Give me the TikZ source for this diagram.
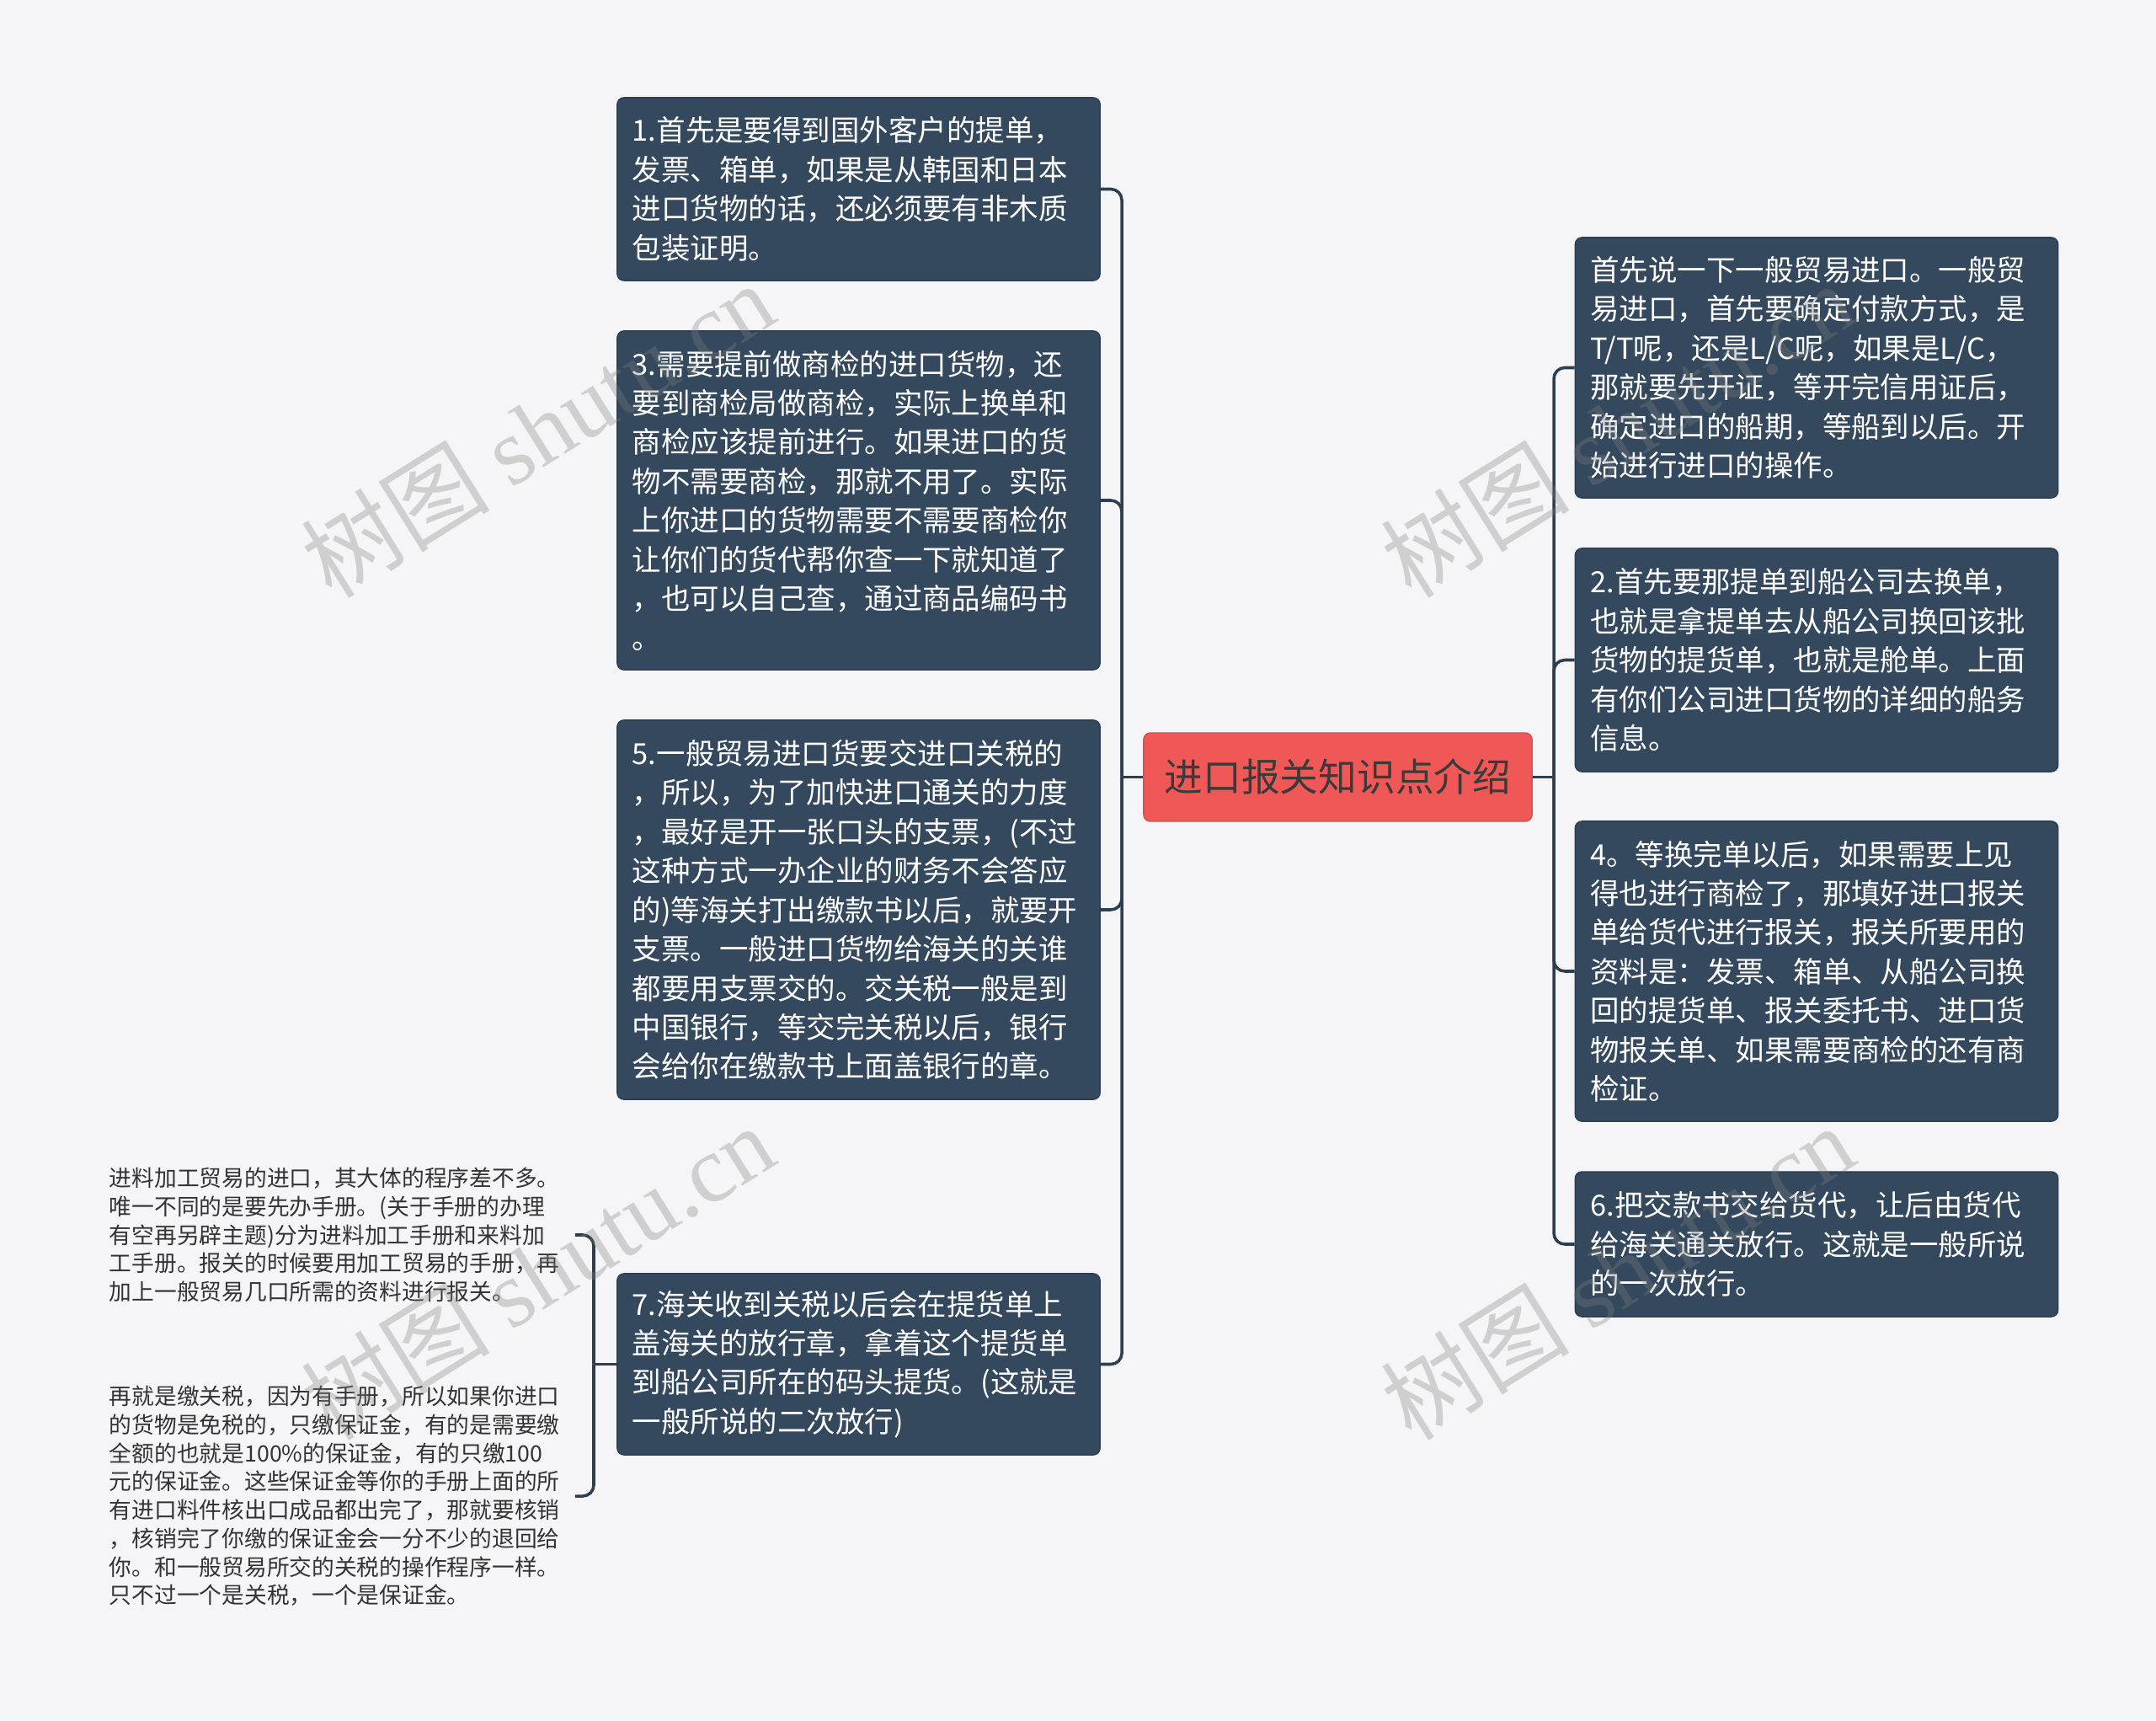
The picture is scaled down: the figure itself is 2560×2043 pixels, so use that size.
\documentclass[tikz,border=0pt]{standalone}
\usepackage{fontspec}
\setmainfont{Noto Sans CJK SC}
\newfontfamily\wmlatin{Liberation Serif}
\definecolor{bgcol}{HTML}{F5F5F7}
\definecolor{boxcol}{HTML}{34495E}
\definecolor{linecol}{HTML}{2C3E50}
\definecolor{rootcol}{HTML}{F05858}
\definecolor{roottext}{HTML}{3A3A3A}
\definecolor{notetext}{HTML}{333333}

\begin{document}
\begin{tikzpicture}[x=0.01cm, y=-0.01cm,
    topic/.style={fill=boxcol, draw=boxcol!85!black, rounded corners=0.08cm, text=white, text width=5.37cm, align=left, inner xsep=0.18cm, font={\fontsize{9.8pt}{13.2pt}\selectfont}},
    note/.style={text=notetext, text width=5.38cm, align=left, inner xsep=0.14cm, anchor=east, font={\fontsize{7.6pt}{9.6pt}\selectfont}},
    link/.style={draw=linecol, line width=1pt, rounded corners=0.13cm},
    wm/.style={text=gray, text opacity=0.32, font={\fontsize{32pt}{32pt}\selectfont}}]
    \fill[bgcol] (0,0) rectangle (2560,2043);
    % root
    \node[fill=rootcol, draw=rootcol!90!black, rounded corners=0.08cm, minimum width=4.61cm, minimum height=1.05cm, text=roottext, font={\fontsize{13pt}{15pt}\selectfont}] at (1588.5,922.5) (intro) {进口报关知识点介绍};
    \coordinate (lj) at (1332,922.5);
    \coordinate (rj) at (1845,922.5);
    % left side
    \node[topic, minimum height=2.17cm] at (1019.5,224.5) (lading) {1.首先是要得到国外客户的提单，\\发票、箱单，如果是从韩国和日本\\进口货物的话，还必须要有非木质\\包装证明。};
    \node[topic, minimum height=4.02cm] at (1019.5,594) (inspect) {3.需要提前做商检的进口货物，还\\要到商检局做商检，实际上换单和\\商检应该提前进行。如果进口的货\\物不需要商检，那就不用了。实际\\上你进口的货物需要不需要商检你\\让你们的货代帮你查一下就知道了\\，也可以自己查，通过商品编码书\\。};
    \node[topic, minimum height=4.50cm] at (1019.5,1080) (duty) {5.一般贸易进口货要交进口关税的\\，所以，为了加快进口通关的力度\\，最好是开一张口头的支票，(不过\\这种方式一办企业的财务不会答应\\的)等海关打出缴款书以后，就要开\\支票。一般进口货物给海关的关谁\\都要用支票交的。交关税一般是到\\中国银行，等交完关税以后，银行\\会给你在缴款书上面盖银行的章。};
    \node[topic, minimum height=2.15cm] at (1019.5,1619.5) (release2) {7.海关收到关税以后会在提货单上\\盖海关的放行章，拿着这个提货单\\到船公司所在的码头提货。(这就是\\一般所说的二次放行)};
    \draw[link] (intro.west) -- (lj);
    \draw[link] (lj) |- (lading.east);
    \draw[link] (lj) |- (inspect.east);
    \draw[link] (lj) |- (duty.east);
    \draw[link] (lj) |- (release2.east);
    % notes of 7
    \coordinate (sj) at (705,1619.5);
    \node[note] at (683,1466) (processing) {进料加工贸易的进口，其大体的程序差不多。\\唯一不同的是要先办手册。(关于手册的办理\\有空再另辟主题)分为进料加工手册和来料加\\工手册。报关的时候要用加工贸易的手册，再\\加上一般贸易几口所需的资料进行报关。};
    \node[note] at (683,1776) (deposit) {再就是缴关税，因为有手册，所以如果你进口\\的货物是免税的，只缴保证金，有的是需要缴\\全额的也就是100\%的保证金，有的只缴100\\元的保证金。这些保证金等你的手册上面的所\\有进口料件核出口成品都出完了，那就要核销\\，核销完了你缴的保证金会一分不少的退回给\\你。和一般贸易所交的关税的操作程序一样。\\只不过一个是关税，一个是保证金。};
    \draw[link] (release2.west) -- (sj);
    \draw[link] (sj) |- (processing.east);
    \draw[link] (sj) |- (deposit.east);
    % right side
    \node[topic, minimum height=3.09cm] at (2157,436.5) (general) {首先说一下一般贸易进口。一般贸\\易进口，首先要确定付款方式，是\\T/T呢，还是L/C呢，如果是L/C，\\那就要先开证，等开完信用证后，\\确定进口的船期，等船到以后。开\\始进行进口的操作。};
    \node[topic, minimum height=2.65cm] at (2157,783.5) (exchange) {2.首先要那提单到船公司去换单，\\也就是拿提单去从船公司换回该批\\货物的提货单，也就是舱单。上面\\有你们公司进口货物的详细的船务\\信息。};
    \node[topic, minimum height=3.56cm] at (2157,1153) (declare) {4。等换完单以后，如果需要上见\\得也进行商检了，那填好进口报关\\单给货代进行报关，报关所要用的\\资料是：发票、箱单、从船公司换\\回的提货单、报关委托书、进口货\\物报关单、如果需要商检的还有商\\检证。};
    \node[topic, minimum height=1.72cm] at (2157,1477) (release1) {6.把交款书交给货代，让后由货代\\给海关通关放行。这就是一般所说\\的一次放行。};
    \draw[link] (intro.east) -- (rj);
    \draw[link] (rj) |- (general.west);
    \draw[link] (rj) |- (exchange.west);
    \draw[link] (rj) |- (declare.west);
    \draw[link] (rj) |- (release1.west);
    % watermarks
    \node[wm, rotate=32] at (638,510) (wm1) {树图 {\wmlatin shutu.cn}};
    \node[wm, rotate=32] at (638,1510) (wm2) {树图 {\wmlatin shutu.cn}};
    \node[wm, rotate=32] at (1920,510) (wm3) {树图 {\wmlatin shutu.cn}};
    \node[wm, rotate=32] at (1920,1510) (wm4) {树图 {\wmlatin shutu.cn}};
\end{tikzpicture}
\end{document}
